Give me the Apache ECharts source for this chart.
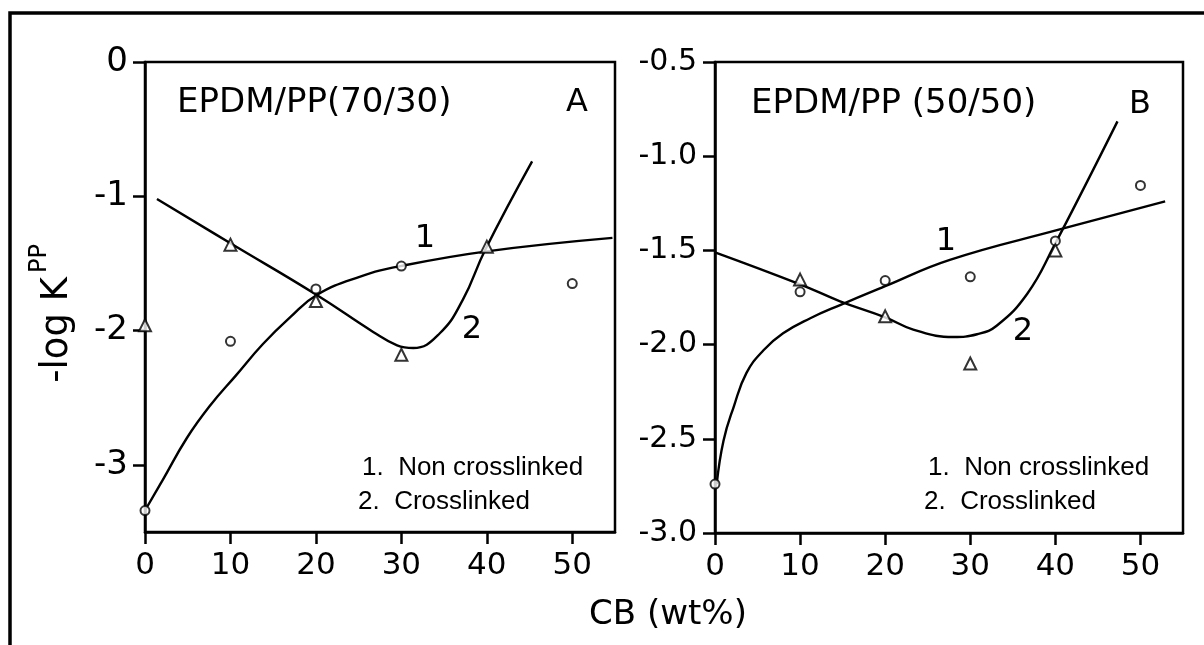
<!DOCTYPE html>
<html>
<head>
<meta charset="utf-8">
<script src="https://cdn.jsdelivr.net/npm/echarts@6/dist/echarts.min.js"></script>
<style>
  html, body { margin: 0; padding: 0; background: #ffffff; }
  #chart { width: 1204px; height: 645px; }
</style>
</head>
<body>
<div id="chart"></div>
<script>
// ---------- data ----------
const xTickValues = [0, 10, 20, 30, 40, 50];
const yTickValuesA = [0, -1, -2, -3];
const yTickValuesB = [-0.5, -1.0, -1.5, -2.0, -2.5, -3.0];

// Panel A : EPDM/PP (70/30)
const aCircleX = [0, 10, 20, 30, 50];
const aCircleY = [-3.34, -2.08, -1.69, -1.52, -1.65];
const aTriX = [0, 10, 20, 30, 40];
const aTriY = [-1.96, -1.36, -1.78, -2.18, -1.375];
const aCurve1X = [0, 2.1, 4.9, 7.6, 10.7, 13.8, 17.0, 20.1, 25.1, 29.9, 40.0, 54.7];
const aCurve1Y = [-3.34, -3.11, -2.80, -2.56, -2.33, -2.10, -1.90, -1.735, -1.60, -1.52, -1.41, -1.31];
const aCurve2X = [1.4, 10, 20.1, 26.7, 29.5, 31.4, 34.5, 37.2, 39.8, 45.3];
const aCurve2Y = [-1.02, -1.35, -1.735, -2.01, -2.11, -2.13, -2.02, -1.77, -1.40, -0.74];

// Panel B : EPDM/PP (50/50)
const bCircleX = [0, 10, 20, 30, 40, 50];
const bCircleY = [-2.74, -1.72, -1.66, -1.64, -1.45, -1.155];
const bTriX = [10, 20, 30, 40];
const bTriY = [-1.655, -1.85, -2.10, -1.50];
const bCurve1X = [0.2, 1.0, 2.2, 3.7, 5.7, 8.0, 11.2, 14.7, 20, 27.6, 40.4, 52.9];
const bCurve1Y = [-2.74, -2.51, -2.33, -2.15, -2.03, -1.94, -1.86, -1.79, -1.69, -1.55, -1.39, -1.24];
const bCurve2X = [0, 10, 14.7, 20, 23.3, 28.0, 30.8, 33.1, 36.7, 39.8, 47.3];
const bCurve2Y = [-1.51, -1.68, -1.77, -1.855, -1.92, -1.96, -1.945, -1.90, -1.73, -1.48, -0.815];

// ---------- helpers ----------
const zip = (xs, ys) => xs.map((x, i) => [x, ys[i]]);
const INK = '#000000';
const TICK_FONT = 'DejaVu Sans';

function lineSeries(xi, xs, ys) {
  return {
    type: 'line', xAxisIndex: xi, yAxisIndex: xi,
    data: zip(xs, ys), smooth: 0.45, showSymbol: false, symbol: 'none',
    lineStyle: { color: INK, width: 2.4 }, z: 2, silent: true
  };
}
function markSeries(xi, xs, ys, symbol, size) {
  return {
    type: 'scatter', xAxisIndex: xi, yAxisIndex: xi,
    data: zip(xs, ys), symbol: symbol, symbolSize: size, clip: false,
    itemStyle: { color: '#ffffff', borderColor: INK, borderWidth: 2 }, z: 4, silent: true
  };
}
function xAxisDef(gi) {
  return {
    type: 'value', gridIndex: gi, min: 0, max: 55, interval: 10,
    axisLine: { onZero: false, lineStyle: { color: INK, width: 2.5 } },
    axisTick: { customValues: xTickValues, length: 12, inside: false, lineStyle: { color: INK, width: 2.5 } },
    axisLabel: { customValues: xTickValues, color: INK, fontFamily: TICK_FONT, fontSize: 31, margin: 18 },
    splitLine: { show: false }
  };
}
function txt(x, y, text, size, align, family, rotation) {
  return {
    type: 'text', x: x, y: y, rotation: rotation || 0, silent: true, z: 10,
    style: {
      text: text, fill: INK, fontSize: size, fontFamily: family || 'DejaVu Sans',
      align: align || 'center', verticalAlign: 'middle',
      textAlign: align || 'center', textVerticalAlign: 'middle'
    }
  };
}

const option = {
  backgroundColor: '#ffffff',
  animation: false,
  grid: [
    { left: 145, top: 62, width: 470, height: 470, show: true, borderColor: INK, borderWidth: 2.5, backgroundColor: 'transparent' },
    { left: 715, top: 62, width: 468, height: 471, show: true, borderColor: INK, borderWidth: 2.5, backgroundColor: 'transparent' }
  ],
  xAxis: [xAxisDef(0), xAxisDef(1)],
  yAxis: [
    {
      type: 'value', gridIndex: 0, min: -3.5, max: 0, interval: 0.5,
      axisLine: { onZero: false, lineStyle: { color: INK, width: 2.5 } },
      axisTick: { customValues: yTickValuesA, length: 12, lineStyle: { color: INK, width: 2.5 } },
      axisLabel: { customValues: yTickValuesA, color: INK, fontFamily: TICK_FONT, fontSize: 34, margin: 17,
                   formatter: v => String(Math.round(v)) },
      splitLine: { show: false }
    },
    {
      type: 'value', gridIndex: 1, min: -3, max: -0.5, interval: 0.5,
      axisLine: { onZero: false, lineStyle: { color: INK, width: 2.5 } },
      axisTick: { customValues: yTickValuesB, length: 12, lineStyle: { color: INK, width: 2.5 } },
      axisLabel: { customValues: yTickValuesB, color: INK, fontFamily: TICK_FONT, fontSize: 30, margin: 18,
                   formatter: v => v.toFixed(1) },
      splitLine: { show: false }
    }
  ],
  series: [
    lineSeries(0, aCurve1X, aCurve1Y),
    lineSeries(0, aCurve2X, aCurve2Y),
    markSeries(0, aCircleX, aCircleY, 'circle', 9),
    markSeries(0, aTriX, aTriY, 'triangle', 12),
    lineSeries(1, bCurve1X, bCurve1Y),
    lineSeries(1, bCurve2X, bCurve2Y),
    markSeries(1, bCircleX, bCircleY, 'circle', 9),
    markSeries(1, bTriX, bTriY, 'triangle', 12)
  ],
  graphic: [
    // outer frame (top and left edges)
    { type: 'polyline', silent: true, z: 1,
      shape: { points: [[10, 650], [10, 13], [1210, 13]] },
      style: { stroke: INK, lineWidth: 3.5, fill: null } },
    // panel titles
    txt(177, 103, 'EPDM/PP(70/30)', 34, 'left'),
    txt(577, 103, 'A', 32),
    txt(751, 104, 'EPDM/PP (50/50)', 34, 'left'),
    txt(1140, 105, 'B', 32),
    // curve numbers
    txt(425, 239, '1', 32),
    txt(472, 330, '2', 32),
    txt(946, 242, '1', 32),
    txt(1023, 332, '2', 32),
    // in-panel keys
    txt(362, 468, '1.  Non crosslinked', 26, 'left', 'Liberation Sans'),
    txt(358, 502, '2.  Crosslinked', 26, 'left', 'Liberation Sans'),
    txt(928, 468, '1.  Non crosslinked', 26, 'left', 'Liberation Sans'),
    txt(924, 502, '2.  Crosslinked', 26, 'left', 'Liberation Sans'),
    // axis titles
    txt(57, 277, '-log K', 37, 'right', 'DejaVu Sans', Math.PI / 2),
    txt(40, 273, 'PP', 24, 'left', 'DejaVu Sans', Math.PI / 2),
    txt(668, 615, 'CB (wt%)', 34, 'center')
  ]
};

const chart = echarts.init(document.getElementById('chart'), null, { renderer: 'canvas' });
chart.setOption(option);
</script>
</body>
</html>
